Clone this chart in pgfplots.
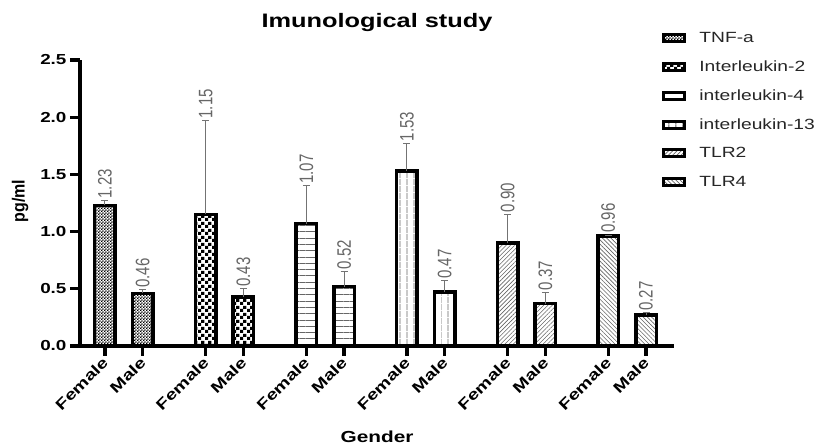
\documentclass[border=0pt]{standalone}
\usepackage{fontspec}
\setmainfont[FakeStretch=1.3]{Liberation Sans}
\newfontfamily\plainfont{Liberation Sans}
\usepackage{graphicx}
\usepackage{pgfplots}
\pgfplotsset{compat=1.18}
\usetikzlibrary{patterns,patterns.meta}

\pgfdeclarepatternformonly{finecheck}{\pgfpointorigin}{\pgfpoint{3.2pt}{3.2pt}}{\pgfpoint{3.2pt}{3.2pt}}{%
  \pgfpathrectangle{\pgfpointorigin}{\pgfpoint{1.6pt}{1.6pt}}%
  \pgfpathrectangle{\pgfpoint{1.6pt}{1.6pt}}{\pgfpoint{1.6pt}{1.6pt}}%
  \pgfusepath{fill}}
\pgfdeclarepatternformonly{coarsecheck}{\pgfpointorigin}{\pgfpoint{6.6pt}{6.6pt}}{\pgfpoint{6.6pt}{6.6pt}}{%
  \pgfpathrectangle{\pgfpointorigin}{\pgfpoint{3.3pt}{3.3pt}}%
  \pgfpathrectangle{\pgfpoint{3.3pt}{3.3pt}}{\pgfpoint{3.3pt}{3.3pt}}%
  \pgfusepath{fill}}

\pgfplotstableread{
x y e
0 1.23 0.04
1 0.46 0.03
}\tnf
\pgfplotstableread{
x y e
2.6667 1.15 0.82
3.6667 0.43 0.07
}\iltwo
\pgfplotstableread{
x y e
5.3333 1.07 0.33
6.3333 0.52 0.13
}\ilfour
\pgfplotstableread{
x y e
8 1.53 0.24
9 0.47 0.10
}\ilthirteen
\pgfplotstableread{
x y e
10.6667 0.90 0.25
11.6667 0.37 0.10
}\tlrtwo
\pgfplotstableread{
x y e
13.3333 0.96 0.01
14.3333 0.27 0.02
}\tlrfour
\pgfplotstableread{
x y lab
0 1.27 1.23
1 0.49 0.46
2.6667 1.97 1.15
3.6667 0.50 0.43
5.3333 1.40 1.07
6.3333 0.65 0.52
8 1.77 1.53
9 0.57 0.47
10.6667 1.15 0.90
11.6667 0.47 0.37
13.3333 0.97 0.96
14.3333 0.29 0.27
}\labels

\pgfplotsset{
  mybar/.style={ybar, bar width=20.5pt, bar shift=0pt, draw=black, line width=3.5pt,
    error bars/y dir=plus, error bars/y explicit,
    error bars/error bar style={black!55, line width=1pt},
    error bars/error mark options={black!55, line width=1pt, rotate=90, mark size=3.5pt}},
}

\begin{document}
\begin{tikzpicture}
\useasboundingbox (0,0) rectangle (832pt,446pt);
\begin{axis}[
  at={(80pt,100pt)}, anchor=south west,
  scale only axis, width=594pt, height=286pt,
  xmin=-0.662, xmax=15.075, ymin=0, ymax=2.5,
  axis lines=left,
  axis line style={-, line width=3.5pt},
  x axis line style={shorten <=-1.75pt},
  tick align=outside, major tick length=10pt,
  tick style={line width=3.2pt, black},
  ytick={0,0.5,1,1.5,2,2.5},
  /pgf/number format/assume math mode=true,
  y tick label style={font=\bfseries\fontsize{14.5}{14.5}\selectfont, /pgf/number format/.cd, fixed, fixed zerofill, precision=1},
  xtick={0,1,2.6667,3.6667,5.3333,6.3333,8,9,10.6667,11.6667,13.3333,14.3333},
  xticklabels={Female,Male,Female,Male,Female,Male,Female,Male,Female,Male,Female,Male},
  x tick label style={font=\bfseries\fontsize{15}{15}\selectfont, rotate=45, anchor=east, yshift=-3pt, xshift=1pt},
  title={Imunological study},
  title style={font=\bfseries\fontsize{19.5}{19.5}\selectfont, at={(axis description cs:0.5,1.091)}, anchor=base},
  xlabel={Gender},
  xlabel style={font=\bfseries\fontsize{16}{16}\selectfont, at={(axis description cs:0.5,-0.339)}, anchor=base},
  ylabel={\scalebox{1}[1.1]{\plainfont\bfseries\fontsize{16}{16}\selectfont pg/ml}},
  ylabel style={at={(axis description cs:-0.101,0.507)}, anchor=center},
  legend style={at={(axis description cs:0.975,1.112)}, anchor=north west, draw=none, fill=none,
    font=\fontsize{14.8}{16}\selectfont, text=black!85, row sep=12.7pt, column sep=11pt},
  legend cell align=left,
  legend image code/.code={\draw[#1, line width=3pt, draw=black] (0pt,-3.5pt) rectangle (21pt,3.5pt);},
]
\addplot[mybar, pattern=finecheck, pattern color=black] table[x=x, y=y, y error=e] {\tnf};
\addplot[mybar, pattern=coarsecheck, pattern color=black] table[x=x, y=y, y error=e] {\iltwo};
\addplot[mybar, pattern={Lines[angle=0, distance=6.3pt, line width=0.8pt]}, pattern color=black!60] table[x=x, y=y, y error=e] {\ilfour};
\addplot[mybar, pattern={Lines[angle=90, distance=6.5pt, line width=0.8pt]}, pattern color=black!60] table[x=x, y=y, y error=e] {\ilthirteen};
\addplot[mybar, pattern={Lines[angle=45, distance=3pt, line width=0.6pt]}, pattern color=black!60] table[x=x, y=y, y error=e] {\tlrtwo};
\addplot[mybar, pattern={Lines[angle=-45, distance=3pt, line width=0.6pt]}, pattern color=black!60] table[x=x, y=y, y error=e] {\tlrfour};
\addplot[forget plot, draw=none, mark=none, point meta=explicit symbolic,
  nodes near coords={\scalebox{1}[1.3]{\pgfplotspointmeta}},
  every node near coord/.style={rotate=90, anchor=west, text=black!60,
    font=\plainfont\fontsize{15}{15}\selectfont, inner sep=2pt}]
  table[x=x, y=y, meta=lab] {\labels};
\legend{TNF-a, Interleukin-2, interleukin-4, interleukin-13, TLR2, TLR4}
\end{axis}
\end{tikzpicture}
\end{document}
